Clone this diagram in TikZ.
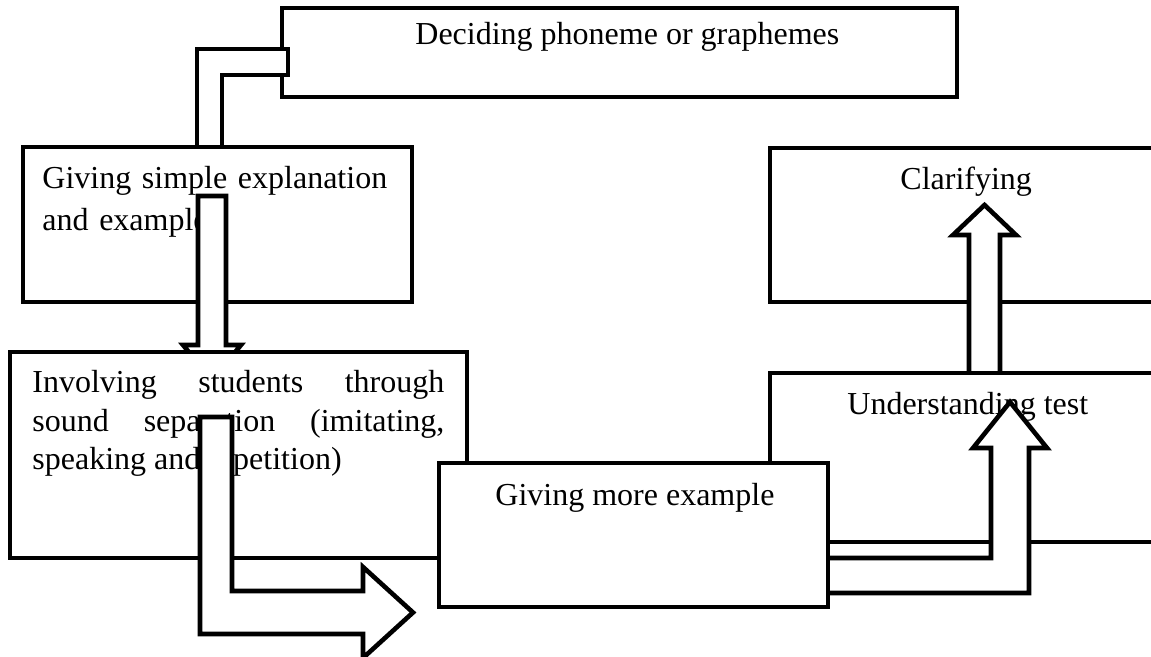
\documentclass[tikz,border=0pt]{standalone}
\usepackage{fontspec}
\setmainfont{Liberation Serif}
\usetikzlibrary{fit}

\tikzset{
  box/.style={draw, fill=white, line width=2.3pt, inner sep=0pt},
  blockarrow/.style={draw, fill=white, line width=2.3pt},
  txt/.style={inner sep=0pt, font=\fontsize{16}{21}\selectfont},
}

\begin{document}
\begin{tikzpicture}[x=0.5pt,y=-0.5pt]

\useasboundingbox (0,0) rectangle (1151,657);
\clip (0,0) rectangle (1151,657);

\node [box, fit={(282,8) (957,97)}] (decide) {};
\node [txt, anchor=base west] (decidetxt) at (415,45) {Deciding phoneme or graphemes};

\draw [blockarrow] (197,147) -- (197,49) -- (288,49) -- (288,75) -- (222,75) -- (222,147);

\node [box, fit={(23,147) (412,302)}] (simple) {};
\node [txt, anchor=base west, text width=180pt, align=left] (simpletxt) at (42,189) {Giving simple explanation\\and example};

\draw [blockarrow] (198,196) -- (226,196) -- (226,345) -- (241,345) -- (212,380) -- (183,345) -- (198,345) -- cycle;

\node [box, fit={(10,352) (467,558)}] (involve) {};
\node [txt, anchor=base west, text width=206pt, align=justify, font=\fontsize{16}{19.25}\selectfont] (involvetxt) at (32,393) {Involving students through\linebreak sound separation (imitating,\linebreak speaking and repetition)};

\draw [blockarrow] (200,417) -- (232,417) -- (232,591) -- (363,591) -- (363,567) -- (413,612.5) -- (363,658) -- (363,634) -- (200,634) -- cycle;

\node [box, fit={(770,148) (1163,302)}] (clarify) {};
\node [txt, anchor=base west] (clarifytxt) at (900,190) {Clarifying};

\draw [blockarrow] (969,373) -- (969,235) -- (953,235) -- (984.5,205) -- (1016,235) -- (1000,235) -- (1000,373);

\node [box, fit={(770,373) (1163,542)}] (under) {};
\node [txt, anchor=base west] (undertxt) at (847,415) {Understanding test};

\draw [blockarrow] (828,558) -- (991,558) -- (991,448) -- (973,448) -- (1010,402) -- (1047,448) -- (1029,448) -- (1029,593) -- (828,593);

\node [box, fit={(439,463) (828,607)}] (more) {};
\node [txt, anchor=base west] (moretxt) at (495,505) {Giving more example};

\end{tikzpicture}
\end{document}
